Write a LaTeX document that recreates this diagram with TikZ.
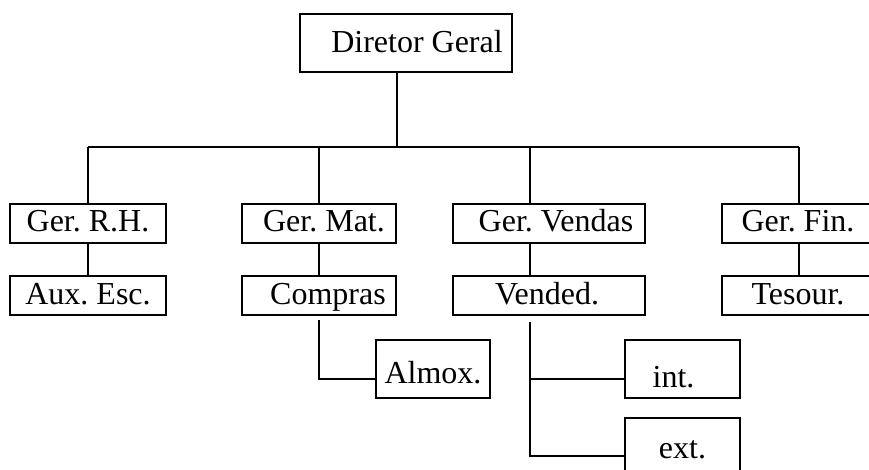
\documentclass[tikz,border=0pt]{standalone}
\usepackage{fontspec}
\setmainfont{Liberation Serif}
\frenchspacing
\begin{document}
\begin{tikzpicture}[x=1pt,y=-1pt,
  box/.style={draw=black,line width=1.1pt,inner sep=0pt,outer sep=0pt,
    font=\fontsize{32}{36}\selectfont,minimum height=39pt,
    text height=23pt,text depth=6pt},
  tall/.style={minimum height=58pt},
  link/.style={draw=black,line width=1.1pt}]
\useasboundingbox (0,0) rectangle (869,470);
\clip (0,0) rectangle (869,470);
% boxes
\node[box,tall,minimum width=212pt] (dg) at (406,43) {\raisebox{-1.5pt}{\hspace*{22pt}Diretor Geral}};
\node[box,minimum width=156pt] (grh) at (88,223.5) {Ger. R.H.};
\node[box,minimum width=154pt] (gmat) at (319,223.5) {\hspace*{10pt}Ger. Mat.};
\node[box,minimum width=192pt] (gven) at (549,223.5) {\hspace*{14pt}Ger. Vendas};
\node[box,minimum width=152pt] (gfin) at (798,223.5) {Ger. Fin.};
\node[box,minimum width=156pt] (aux) at (88,295.5) {Aux. Esc.};
\node[box,minimum width=154pt] (comp) at (319,295.5) {\hspace*{18pt}Compras};
\node[box,minimum width=192pt] (vend) at (549,295.5) {Vended.\hspace*{4pt}};
\node[box,minimum width=152pt] (tes) at (798,295.5) {Tesour.};
\node[box,tall,minimum width=114pt] (almox) at (433,369) {\raisebox{-5.5pt}{Almox.}};
\node[box,tall,minimum width=115pt] (int) at (682.5,369) {\raisebox{-9.5pt}{int.\hspace*{18pt}}};
\node[box,tall,minimum width=115pt] (ext) at (682.5,447) {\raisebox{-2.5pt}{ext.}};
% junction points
\coordinate (b0) at (397,147);
\coordinate (b1) at (88,147);
\coordinate (b2) at (319,147);
\coordinate (b3) at (530,147);
\coordinate (b4) at (799,147);
\coordinate (ca) at (319,379);
\coordinate (va) at (530,379);
\coordinate (ve) at (530,456);
% connectors
\draw[link] (dg.south -| b0) -- (b0);
\draw[link] (b1) -- (b4);
\draw[link] (b1) -- (grh.north -| b1);
\draw[link] (b2) -- (gmat.north -| b2);
\draw[link] (b3) -- (gven.north -| b3);
\draw[link] (b4) -- (gfin.north -| b4);
\draw[link] (grh.south -| b1) -- (aux.north -| b1);
\draw[link] (gmat.south -| b2) -- (comp.north -| b2);
\draw[link] (gven.south -| b3) -- (vend.north -| b3);
\draw[link] (gfin.south -| b4) -- (tes.north -| b4);
\draw[link] ([yshift=-5pt]comp.south -| ca) -- (ca) -- (ca -| almox.west);
\draw[link] ([yshift=-7pt]vend.south -| va) -- (ve) -- (ve -| ext.west);
\draw[link] (va) -- (va -| int.west);
\end{tikzpicture}
\end{document}
